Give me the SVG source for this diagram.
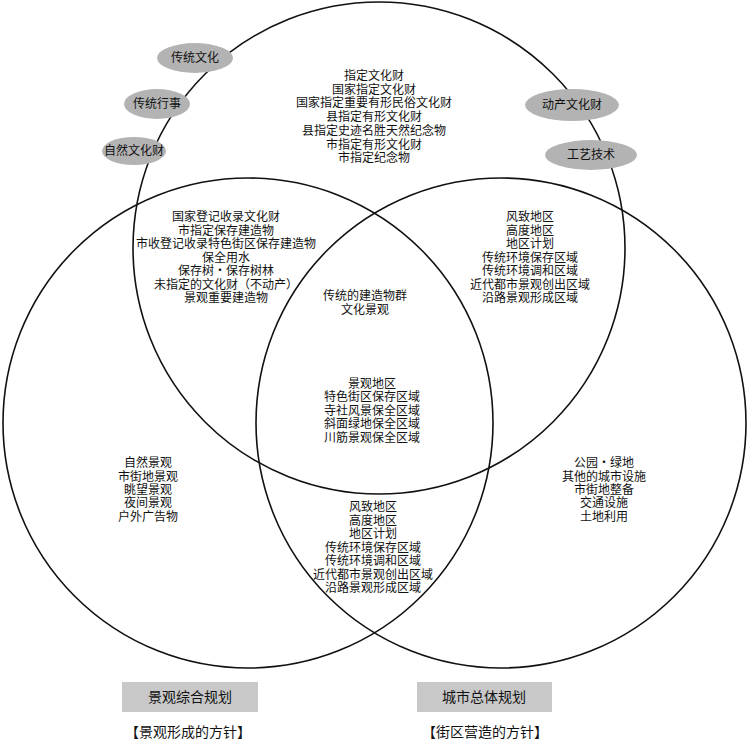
<svg xmlns="http://www.w3.org/2000/svg" width="748" height="740" viewBox="0 0 748 740">
<style>
.c{fill:none;stroke:#111;stroke-width:1.6}
.e{fill:#b3b3b3;stroke:none}
.b{fill:#c8c8c8;stroke:none}
text{font-family:"Noto Sans CJK SC","Noto Sans CJK JP",sans-serif;font-size:12px;fill:#111;text-anchor:middle}
.lg{font-size:14px}
</style>
<rect width="748" height="740" fill="#fff"/>
<g id="connectors">
<circle id="circle-top" class="c" cx="379" cy="248" r="246"/>
<circle id="circle-left" class="c" cx="248" cy="423" r="245"/>
<circle id="circle-right" class="c" cx="501" cy="423" r="245"/>
</g>
<g id="node-chuantongwenhua"><ellipse class="e" cx="195" cy="58" rx="38" ry="15"/><text x="195" y="62">传统文化</text></g>
<g id="node-chuantongxingshi"><ellipse class="e" cx="157" cy="104" rx="33" ry="15"/><text x="157" y="108">传统行事</text></g>
<g id="node-ziranwenhuacai"><ellipse class="e" cx="134" cy="151" rx="32" ry="14"/><text x="134" y="155">自然文化财</text></g>
<g id="node-dongchan"><ellipse class="e" cx="572" cy="105" rx="47" ry="16"/><text x="572" y="109">动产文化财</text></g>
<g id="node-gongyi"><ellipse class="e" cx="591" cy="155" rx="46" ry="15"/><text x="591" y="159">工艺技术</text></g>
<g id="region-top">
<text x="374" y="80">指定文化财</text>
<text x="374" y="94">国家指定文化财</text>
<text x="374" y="107">国家指定重要有形民俗文化财</text>
<text x="374" y="121">县指定有形文化财</text>
<text x="374" y="135">县指定史迹名胜天然纪念物</text>
<text x="374" y="149">市指定有形文化财</text>
<text x="374" y="162">市指定纪念物</text>
</g>
<g id="region-top-left">
<text x="226" y="221">国家登记收录文化财</text>
<text x="226" y="235">市指定保存建造物</text>
<text x="226" y="248">市收登记收录特色街区保存建造物</text>
<text x="226" y="262">保全用水</text>
<text x="226" y="275">保存树・保存树林</text>
<text x="226" y="289">未指定的文化财（不动产）</text>
<text x="226" y="302">景观重要建造物</text>
</g>
<g id="region-top-right">
<text x="530" y="221">风致地区</text>
<text x="530" y="235">高度地区</text>
<text x="530" y="248">地区计划</text>
<text x="530" y="262">传统环境保存区域</text>
<text x="530" y="275">传统环境调和区域</text>
<text x="530" y="289">近代都市景观创出区域</text>
<text x="530" y="302">沿路景观形成区域</text>
</g>
<g id="region-center">
<text x="365" y="300">传统的建造物群</text>
<text x="365" y="314">文化景观</text>
<text x="372" y="388">景观地区</text>
<text x="372" y="401">特色街区保存区域</text>
<text x="372" y="415">寺社风景保全区域</text>
<text x="372" y="428">斜面绿地保全区域</text>
<text x="372" y="442">川筋景观保全区域</text>
</g>
<g id="region-bottom">
<text x="373" y="511">风致地区</text>
<text x="373" y="525">高度地区</text>
<text x="373" y="538">地区计划</text>
<text x="373" y="552">传统环境保存区域</text>
<text x="373" y="565">传统环境调和区域</text>
<text x="373" y="579">近代都市景观创出区域</text>
<text x="373" y="592">沿路景观形成区域</text>
</g>
<g id="region-left">
<text x="148" y="467">自然景观</text>
<text x="148" y="481">市街地景观</text>
<text x="148" y="494">眺望景观</text>
<text x="148" y="507">夜间景观</text>
<text x="148" y="521">户外广告物</text>
</g>
<g id="region-right">
<text x="604" y="467">公园・绿地</text>
<text x="604" y="481">其他的城市设施</text>
<text x="604" y="494">市街地整备</text>
<text x="604" y="507">交通设施</text>
<text x="604" y="521">土地利用</text>
</g>
<g id="label-left"><rect class="b" x="122" y="682" width="136" height="30"/><text class="lg" x="190" y="702">景观综合规划</text></g>
<g id="label-right"><rect class="b" x="417" y="682" width="135" height="30"/><text class="lg" x="484" y="702">城市总体规划</text></g>
<text class="lg" x="188" y="737">【景观形成的方针】</text>
<text class="lg" x="485" y="737">【街区营造的方针】</text>
</svg>
